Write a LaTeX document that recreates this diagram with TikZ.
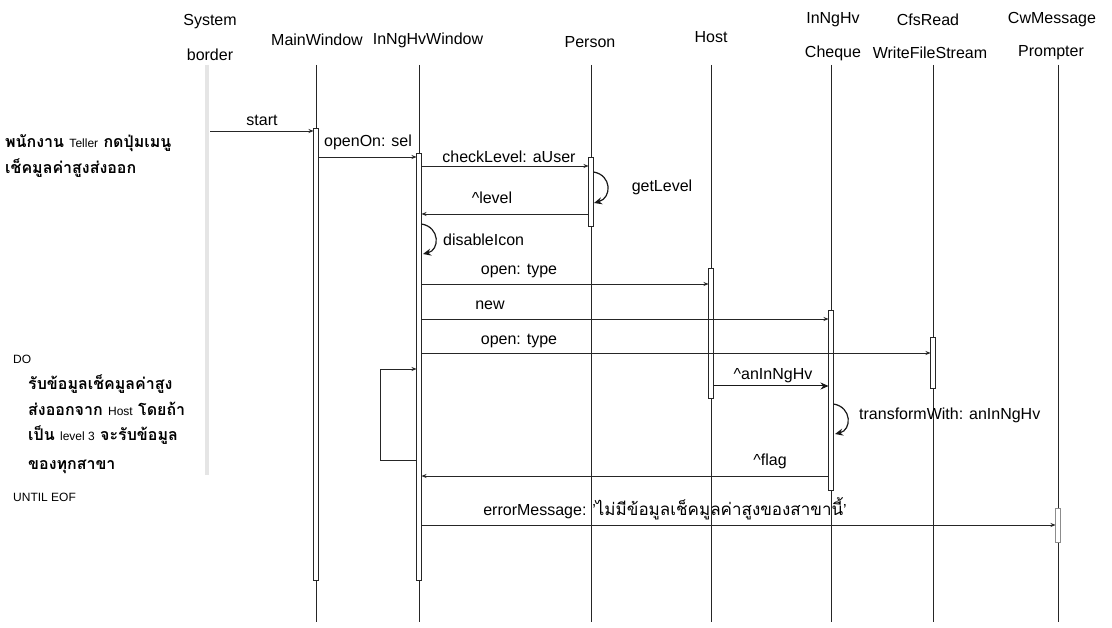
\documentclass[tikz,border=0pt]{standalone}
\usepackage{fontspec}
\setmainfont{Liberation Sans}
\newfontfamily\thai[Script=Thai]{Loma}
\usetikzlibrary{arrows.meta}
\begin{document}
\begin{tikzpicture}[x=1pt,y=-1pt,
  hdr/.style={font=\fontsize{16}{18}\selectfont, inner sep=0pt},
  lbl/.style={font=\fontsize{16}{18}\selectfont, inner sep=0pt},
  life/.style={line width=1pt, black!85},
  actbar/.style={draw=black!85, line width=0.9pt, fill=white},
  msg/.style={line width=0.9pt, black!85, -{Stealth[length=5pt,width=4pt]}},
  bigmsg/.style={line width=1pt, black!90, -{Stealth[length=8pt,width=7pt]}},
  selfl/.style={line width=1.2pt, black!90, -{Stealth[length=8pt,width=7pt]}},
  thaitxt/.style={font=\thai\bfseries\fontsize{16}{18}\selectfont, anchor=west, inner sep=0pt},
  smalltxt/.style={font=\fontsize{12}{14}\selectfont, anchor=west, inner sep=0pt},
]
\useasboundingbox (0,0) rectangle (1112,628);
\fill[white] (0,0) rectangle (1112,628);

% headers
\node[hdr] (hSB1) at (210,22) {System};
\node[hdr] (hSB2) at (210,55) {border};
\node[hdr] (hMW) at (317,40) {MainWindow};
\node[hdr] (hIW) at (428,40) {InNgHvWindow};
\node[hdr] (hP) at (590,42) {Person};
\node[hdr] (hH) at (711,37) {Host};
\node[hdr] (hC1) at (833,20) {InNgHv};
\node[hdr] (hC2) at (833,53) {Cheque};
\node[hdr] (hF1) at (928,20) {CfsRead};
\node[hdr] (hF2) at (930,53) {WriteFileStream};
\node[hdr] (hW1) at (1052,20) {CwMessage};
\node[hdr] (hW2) at (1051,53) {Prompter};

% lifelines
\coordinate (sbT) at (207,65); \coordinate (sbB) at (207,475);
\coordinate (mwT) at (316,65); \coordinate (mwB) at (316,622);
\coordinate (iwT) at (419,65); \coordinate (iwB) at (419,622);
\coordinate (pT) at (591,65);  \coordinate (pB) at (591,622);
\coordinate (hT) at (711,65);  \coordinate (hB) at (711,622);
\coordinate (cT) at (831,65);  \coordinate (cB) at (831,622);
\coordinate (fT) at (933,65);  \coordinate (fB) at (933,622);
\coordinate (wT) at (1058,65); \coordinate (wB) at (1058,622);
\draw[line width=4pt, black!10] (sbT) -- (sbB);
\foreach \a/\b in {mwT/mwB,iwT/iwB,pT/pB,hT/hB,cT/cB,fT/fB,wT/wB}
  \draw[life] (\a) -- (\b);

% activation bars
\draw[actbar] (313.5,128) rectangle (318.5,580);
\draw[actbar] (416.5,153) rectangle (421.5,580);
\draw[actbar] (588.5,157) rectangle (593.5,226);
\draw[actbar] (708.5,268) rectangle (713.5,398);
\draw[actbar] (828.5,310) rectangle (833.5,490);
\draw[actbar] (930.5,337) rectangle (935.5,388);
\draw[draw=black!45, line width=1pt, fill=white] (1055.5,508) rectangle (1060.5,542);

% message end points
\coordinate (m1s) at (210,131);   \coordinate (m1e) at (313.5,131);
\coordinate (m2s) at (318.5,157); \coordinate (m2e) at (416.5,157);
\coordinate (m3s) at (421.5,166); \coordinate (m3e) at (588.5,166);
\coordinate (m4s) at (588.5,214); \coordinate (m4e) at (421.5,214);
\coordinate (m5s) at (421.5,284); \coordinate (m5e) at (708.5,284);
\coordinate (m6s) at (421.5,319); \coordinate (m6e) at (828.5,319);
\coordinate (m7s) at (421.5,353); \coordinate (m7e) at (930.5,353);
\coordinate (m8s) at (713.5,386); \coordinate (m8e) at (828.5,386);
\coordinate (m9s) at (828.5,476); \coordinate (m9e) at (421.5,476);
\coordinate (m10s) at (421.5,525); \coordinate (m10e) at (1055.5,525);
\coordinate (lpA) at (416.5,460); \coordinate (lpB) at (380,460);
\coordinate (lpC) at (380,369);   \coordinate (lpD) at (416.5,369);

\draw[msg] (m1s) -- (m1e);
\draw[msg] (m2s) -- (m2e);
\draw[msg] (m3s) -- (m3e);
\draw[msg] (m4s) -- (m4e);
\draw[msg] (m5s) -- (m5e);
\draw[msg] (m6s) -- (m6e);
\draw[msg] (m7s) -- (m7e);
\draw[bigmsg] (m8s) -- (m8e);
\draw[msg] (m9s) -- (m9e);
\draw[msg] (m10s) -- (m10e);
\draw[msg] (lpA) -- (lpB) -- (lpC) -- (lpD);

% self calls
\coordinate (s1a) at (593.5,172); \coordinate (s1b) at (594,203);
\coordinate (s2a) at (421.5,224); \coordinate (s2b) at (423,254);
\coordinate (s3a) at (833.5,404); \coordinate (s3b) at (835,434);
\draw[selfl] (s1a) .. controls (612,175) and (612,198) .. (s1b);
\draw[selfl] (s2a) .. controls (440,227) and (440,250) .. (s2b);
\draw[selfl] (s3a) .. controls (852,407) and (852,430) .. (s3b);

% labels
\node[lbl] (l1) at (262,120) {start};
\node[lbl, anchor=west] (l2) at (324,142) {openOn: sel};
\node[lbl] (l3) at (509,157) {checkLevel: aUser};
\node[lbl] (l4) at (662,187) {getLevel};
\node[lbl] (l5) at (492,198) {\textasciicircum level};
\node[lbl, anchor=west] (l6) at (443,240) {disableIcon};
\node[lbl] (l7) at (519,271) {open: type};
\node[lbl] (l8) at (490,305) {new};
\node[lbl] (l9) at (519,341) {open: type};
\node[lbl] (l10) at (773,376) {\textasciicircum anInNgHv};
\node[lbl, anchor=west] (l11) at (859,415) {transformWith: anInNgHv};
\node[lbl] (l12) at (770,461) {\textasciicircum flag};
\node[lbl] (l13) at (665,509) {errorMessage: '{\thai\fontsize{17}{19}\selectfont ไม่มีข้อมูลเช็คมูลค่าสูงของสาขานี้}'};

% left notes
\node[thaitxt] (n1) at (5,143) {พนักงาน {\normalfont\fontsize{12}{13}\selectfont Teller} กดปุ่มเมนู};
\node[thaitxt] (n2) at (5,168) {เช็คมูลค่าสูงส่งออก};
\node[smalltxt] (d0) at (13,359) {DO};
\node[thaitxt] (d1) at (28,384) {รับข้อมูลเช็คมูลค่าสูง};
\node[thaitxt] (d2) at (28,409) {ส่งออกจาก {\normalfont\fontsize{12}{13}\selectfont Host} โดยถ้า};
\node[thaitxt] (d3) at (28,435) {เป็น {\normalfont\fontsize{12}{13}\selectfont level 3} จะรับข้อมูล};
\node[thaitxt] (d4) at (28,467) {ของทุกสาขา};
\node[smalltxt] (d5) at (13,497) {UNTIL EOF};
\end{tikzpicture}
\end{document}
